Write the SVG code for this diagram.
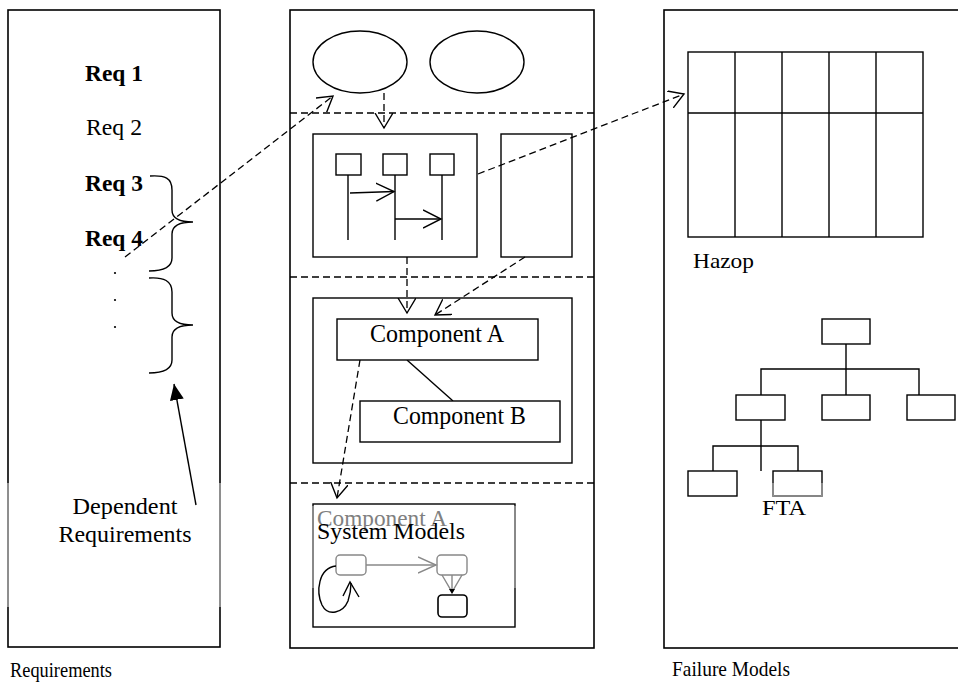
<svg xmlns="http://www.w3.org/2000/svg" width="958" height="684" viewBox="0 0 958 684">
<style>
  .frame { fill: none; stroke: #000; stroke-width: 1.6; }
  .box { fill: #fff; stroke: #000; stroke-width: 1.4; }
  .line { fill: none; stroke: #000; stroke-width: 1.4; }
  .gray { fill: none; stroke: #888; stroke-width: 1.4; }
  .dash { fill: none; stroke: #000; stroke-width: 1.3; stroke-dasharray: 7 4; }
  .t { font-family: "Liberation Serif", "Times New Roman", serif; fill: #000; }
  .b { font-weight: bold; }
</style>
<defs>
  <marker id="vopen" markerUnits="userSpaceOnUse" markerWidth="20" markerHeight="20" refX="15" refY="9" orient="auto" viewBox="0 0 20 20">
    <path d="M0,0 L15,9 L0,18" fill="none" stroke="#000" stroke-width="1.4" stroke-dasharray="none"/>
  </marker>
  <marker id="seqopen" markerUnits="userSpaceOnUse" markerWidth="22" markerHeight="22" refX="18" refY="10" orient="auto" viewBox="0 0 22 22">
    <path d="M0,1 L18,10 L0,19" fill="none" stroke="#000" stroke-width="1.4"/>
  </marker>
  <marker id="grayopen" markerUnits="userSpaceOnUse" markerWidth="22" markerHeight="22" refX="18" refY="10" orient="auto" viewBox="0 0 22 22">
    <path d="M0,2 L18,10 L0,18" fill="none" stroke="#888" stroke-width="1.4"/>
  </marker>
  <marker id="filled" markerUnits="userSpaceOnUse" markerWidth="20" markerHeight="20" refX="16" refY="7" orient="auto" viewBox="0 0 20 14">
    <path d="M0,0 L16,7 L0,14 Z" fill="#000" stroke="none"/>
  </marker>
</defs>

<!-- Requirements panel -->
<g id="requirements">
  <rect class="frame" x="8" y="10" width="212" height="637"/>
  <line x1="8" y1="483" x2="8" y2="607" stroke="#999" stroke-width="1.8"/>
  <line x1="220" y1="483" x2="220" y2="607" stroke="#999" stroke-width="1.8"/>
  <text class="t b" x="85" y="81" font-size="22.5" textLength="58" lengthAdjust="spacingAndGlyphs">Req 1</text>
  <text class="t" x="86" y="135" font-size="22.5" textLength="56" lengthAdjust="spacingAndGlyphs">Req 2</text>
  <text class="t b" x="85" y="191" font-size="22.5" textLength="58" lengthAdjust="spacingAndGlyphs">Req 3</text>
  <text class="t b" x="85" y="246" font-size="22.5" textLength="58" lengthAdjust="spacingAndGlyphs">Req 4</text>
  <circle cx="115" cy="273" r="1.1" fill="#000"/>
  <circle cx="115" cy="300" r="1.1" fill="#000"/>
  <circle cx="115" cy="327" r="1.1" fill="#000"/>
  <path class="line" d="M150,176 C165,175 172,178 172,190 L172,210 C172,219 180,222 193,222 C180,222 172,225 172,234 L172,258 C172,268 162,271 149,271"/>
  <path class="line" d="M149,278 C164,277 172,281 172,292 L172,313 C172,322 180,325 193,325 C180,325 172,328 172,337 L172,360 C172,370 162,373 149,373"/>
  <text class="t" x="125" y="514" font-size="23" text-anchor="middle" textLength="105" lengthAdjust="spacingAndGlyphs">Dependent</text>
  <text class="t" x="125" y="542" font-size="23" text-anchor="middle" textLength="133" lengthAdjust="spacingAndGlyphs">Requirements</text>
  <text class="t" x="10" y="677" font-size="20" textLength="102" lengthAdjust="spacingAndGlyphs">Requirements</text>
</g>

<!-- System models panel -->
<g id="system-models">
  <rect class="frame" x="290" y="10" width="304" height="638"/>
  <line class="dash" x1="290" y1="113" x2="594" y2="113"/>
  <line class="dash" x1="290" y1="277" x2="594" y2="277"/>
  <line class="dash" x1="290" y1="483" x2="594" y2="483"/>
</g>
<g id="usecase-1"><ellipse class="line" cx="360" cy="62" rx="47" ry="31"/></g>
<g id="usecase-2"><ellipse class="line" cx="477" cy="62" rx="47" ry="31"/></g>
<g id="sequence">
  <rect class="box" x="313" y="134" width="164" height="123"/>
  <rect class="box" x="336" y="154" width="25" height="21"/>
  <rect class="box" x="383" y="154" width="24" height="21"/>
  <rect class="box" x="430" y="154" width="24" height="21"/>
  <line class="line" x1="348" y1="175" x2="348" y2="240"/>
  <line class="line" x1="395" y1="175" x2="395" y2="240"/>
  <line class="line" x1="442" y1="175" x2="442" y2="240"/>
  <line class="line" x1="350" y1="193" x2="394" y2="191.5" marker-end="url(#seqopen)"/>
  <line class="line" x1="395" y1="219" x2="441" y2="219" marker-end="url(#seqopen)"/>
</g>
<g id="side-box"><rect class="box" x="501" y="134" width="71" height="123"/></g>
<g id="components">
  <rect class="box" x="313" y="298" width="259" height="165"/>
  <line class="line" x1="407" y1="360" x2="453" y2="401"/>
</g>
<g id="component-a">
  <rect class="box" x="337" y="319" width="201" height="41"/>
  <text class="t" x="370" y="342" font-size="25" textLength="134" lengthAdjust="spacingAndGlyphs">Component A</text>
</g>
<g id="component-b">
  <rect class="box" x="360" y="401" width="200" height="41"/>
  <text class="t" x="393" y="424" font-size="25" textLength="133" lengthAdjust="spacingAndGlyphs">Component B</text>
</g>
<g id="state-machine">
  <rect class="box" x="313" y="504" width="202" height="123"/>
  <line x1="313" y1="506" x2="313" y2="588" stroke="#999" stroke-width="1.6"/>
  <line x1="515" y1="506" x2="515" y2="588" stroke="#999" stroke-width="1.6"/>
  <text class="t" x="317" y="526" font-size="24" style="fill:#808080" textLength="130" lengthAdjust="spacingAndGlyphs">Component A</text>
  <text class="t" x="317" y="539" font-size="24" textLength="148" lengthAdjust="spacingAndGlyphs">System Models</text>
  <rect x="336" y="555" width="30" height="20" rx="4" fill="none" stroke="#888" stroke-width="1.4"/>
  <rect x="437" y="555" width="30" height="20" rx="4" fill="none" stroke="#888" stroke-width="1.4"/>
  <line class="gray" x1="366" y1="565" x2="436" y2="565" marker-end="url(#grayopen)"/>
  <path class="gray" d="M442,575 L452,592 L462,575 M452,575 L452,590"/>
  <path d="M449,589 L455,589 L452,594 Z" fill="#000"/>
  <rect x="438" y="595" width="29" height="22" rx="4" fill="none" stroke="#000" stroke-width="1.6"/>
  <path class="line" d="M336,566 C318,568 316,592 322,605 C328,617 343,613 348,601 C350,595 351,589 351,583"/>
  <path class="line" d="M343,596 L350,582 L359,597"/>
</g>

<!-- Failure models panel -->
<g id="failure-models">
  <rect class="frame" x="664" y="10" width="300" height="638"/>
  <text class="t" x="672" y="676" font-size="21" textLength="118" lengthAdjust="spacingAndGlyphs">Failure Models</text>
</g>
<g id="hazop">
  <rect class="box" x="688" y="52" width="235" height="185"/>
  <line class="line" x1="688" y1="113" x2="923" y2="113"/>
  <line class="line" x1="735" y1="52" x2="735" y2="237"/>
  <line class="line" x1="782" y1="52" x2="782" y2="237"/>
  <line class="line" x1="829" y1="52" x2="829" y2="237"/>
  <line class="line" x1="876" y1="52" x2="876" y2="237"/>
  <text class="t" x="693" y="268" font-size="22" textLength="61" lengthAdjust="spacingAndGlyphs">Hazop</text>
</g>
<g id="fta">
  <path class="line" d="M846,344 L846,395 M761,395 L761,369 L919,369 L919,395 M761,420 L761,471 M713,471 L713,446 L798,446 L798,471"/>
  <rect class="box" x="822" y="319" width="48" height="25"/>
  <rect class="box" x="736" y="395" width="49" height="25"/>
  <rect class="box" x="822" y="395" width="48" height="25"/>
  <rect class="box" x="907" y="395" width="48" height="25"/>
  <rect class="box" x="688" y="471" width="49" height="25"/>
  <rect class="box" x="773" y="471" width="49" height="25"/>
  <path d="M773,483 L773,496 L822,496 L822,483" fill="none" stroke="#999" stroke-width="1.6"/>
  <text class="t" x="762" y="515" font-size="22" textLength="44" lengthAdjust="spacingAndGlyphs">FTA</text>
</g>

<!-- Connectors -->
<g id="connectors">
  <line class="dash" x1="125" y1="257" x2="333" y2="96" marker-end="url(#vopen)"/>
  <line class="dash" x1="478" y1="174" x2="684" y2="94" marker-end="url(#vopen)"/>
  <line class="dash" x1="384" y1="93" x2="384" y2="128" marker-end="url(#vopen)"/>
  <line class="dash" x1="407" y1="257" x2="407" y2="313" marker-end="url(#vopen)"/>
  <line class="dash" x1="525" y1="257" x2="435" y2="315" marker-end="url(#vopen)"/>
  <line class="dash" x1="360" y1="360" x2="337" y2="498" marker-end="url(#vopen)"/>
  <line class="line" x1="196" y1="505" x2="174" y2="384" marker-end="url(#filled)"/>
</g>
</svg>
